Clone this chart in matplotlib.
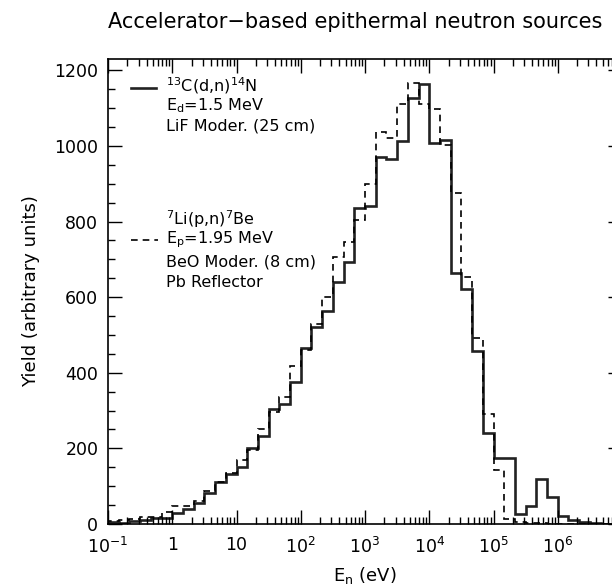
import numpy as np
import matplotlib
matplotlib.use("Agg")
import matplotlib.pyplot as plt
from matplotlib.ticker import FixedLocator, FixedFormatter, MultipleLocator, LogLocator, NullFormatter

# bin edges: 6 log bins per decade from 0.1 eV to 10 MeV
edges = np.logspace(-1, 7, 49)

# 13C(d,n)14N, Ed = 1.5 MeV, LiF moderator
yield_c13 = [6, 3, 8, 10, 15, 17, 29, 40, 55, 83, 110, 131, 150, 200, 233, 303,
             318, 376, 466, 522, 563, 640, 692, 835, 840, 970, 966, 1014, 1128, 1163, 1008, 1016,
             665, 622, 457, 242, 175, 175, 27, 47, 118, 72, 22, 10, 4, 2, 1, 0]

# 7Li(p,n)7Be, Ep = 1.95 MeV, BeO moderator + Pb reflector
yield_li7 = [8, 10, 14, 19, 19, 32, 48, 48, 60, 88, 112, 136, 170, 195, 252, 295,
             335, 419, 460, 530, 600, 705, 746, 805, 900, 1037, 1020, 1112, 1167, 1112, 1098, 1002,
             876, 654, 492, 292, 143, 14, 5, 3, 2, 1, 1, 0, 0, 0, 0, 0]

xticks = [1e-1, 1, 10, 1e2, 1e3, 1e4, 1e5, 1e6, 1e7]
xtick_labels = ['$10^{-1}$', '1', '10', '$10^{2}$', '$10^{3}$', '$10^{4}$', '$10^{5}$', '$10^{6}$', '']
yticks = [0, 200, 400, 600, 800, 1000, 1200]

plt.rcParams['font.family'] = ['DejaVu Sans']
plt.rcParams['mathtext.fontset'] = 'dejavusans'

fig = plt.figure(figsize=(6.12, 5.86), dpi=100)
ax = fig.add_axes([108 / 612, 62 / 586, 514 / 612, 465 / 586])

# histograms
ax.stairs(yield_c13, edges, color='#222222', linewidth=1.9)
ax.stairs(yield_li7, edges, color='black', linewidth=1.2, linestyle=(0, (4, 3)))

ax.set_xscale('log')
ax.set_xlim(1e-1, 1e7)
ax.set_ylim(0, 1230)

ax.xaxis.set_major_locator(FixedLocator(xticks))
ax.xaxis.set_major_formatter(FixedFormatter(xtick_labels))
ax.xaxis.set_minor_locator(LogLocator(base=10, subs=np.arange(2, 10), numticks=100))
ax.xaxis.set_minor_formatter(NullFormatter())
ax.set_yticks(yticks)
ax.yaxis.set_minor_locator(MultipleLocator(50))

ax.tick_params(which='both', direction='in', top=True, right=True, labelsize=12.5, width=1)
ax.tick_params(which='major', length=10)
ax.tick_params(which='minor', length=5)
ax.tick_params(axis='x', pad=9)
ax.tick_params(axis='y', pad=7)
for sp in ax.spines.values():
    sp.set_linewidth(1.2)

ax.set_title('Accelerator\u2212based epithermal neutron sources', fontsize=15, pad=22, x=0.48)
ax.set_xlabel('E$_\\mathregular{n}$ (eV)', fontsize=13, labelpad=6)
ax.set_ylabel('Yield (arbitrary units)', fontsize=13, labelpad=10)

# legend drawn by hand
ax.plot([0.045, 0.093], [0.937, 0.937], transform=ax.transAxes, color='#222222', lw=1.9)
ax.plot([0.045, 0.098], [0.611, 0.611], transform=ax.transAxes, color='black', lw=1.2,
        linestyle=(0, (4, 3)))
tx = 0.112
fs = 11.5
ax.text(tx, 0.942, '$^{13}$C(d,n)$^{14}$N', transform=ax.transAxes, fontsize=fs, va='center')
ax.text(tx, 0.899, 'E$_\\mathregular{d}$=1.5 MeV', transform=ax.transAxes, fontsize=fs, va='center')
ax.text(tx, 0.856, 'LiF Moder. (25 cm)', transform=ax.transAxes, fontsize=fs, va='center')
ax.text(tx, 0.656, '$^{7}$Li(p,n)$^{7}$Be', transform=ax.transAxes, fontsize=fs, va='center')
ax.text(tx, 0.611, 'E$_\\mathregular{p}$=1.95 MeV', transform=ax.transAxes, fontsize=fs, va='center')
ax.text(tx, 0.564, 'BeO Moder. (8 cm)', transform=ax.transAxes, fontsize=fs, va='center')
ax.text(tx, 0.519, 'Pb Reflector', transform=ax.transAxes, fontsize=fs, va='center')

fig.savefig('out.png', dpi=100)
